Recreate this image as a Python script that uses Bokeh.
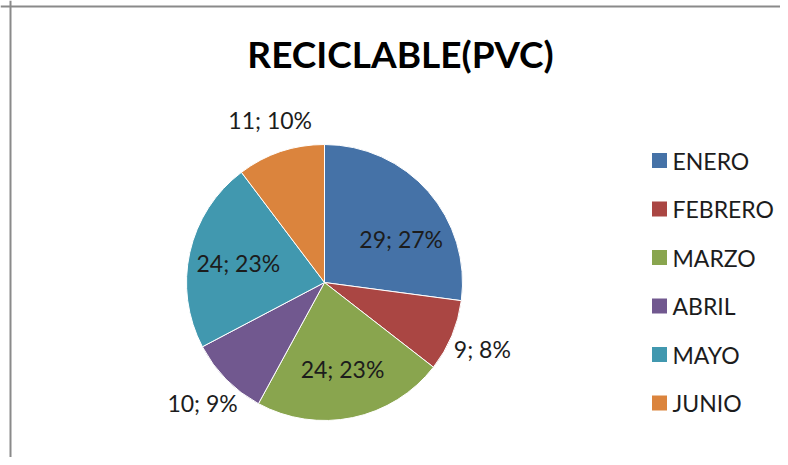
import math
from bokeh.plotting import figure
from bokeh.models import Range1d, Span, ColumnDataSource
from bokeh.core.properties import value
from bokeh.embed import file_html
from bokeh.resources import INLINE

# ---- data ----
title_text = "RECICLABLE(PVC)"
months = ["ENERO", "FEBRERO", "MARZO", "ABRIL", "MAYO", "JUNIO"]
counts = [29, 9, 24, 10, 24, 11]
percents = ["27%", "8%", "23%", "9%", "23%", "10%"]
colors = ["#4572A7", "#AA4643", "#89A54E", "#71588F", "#4198AF", "#DB843D"]

# ---- layout (screen pixels; y measured downward from top) ----
W, H = 780, 457
FONT = value("Lato")
TXT = "#1c1c1c"

def py(y):  # screen y -> data y
    return H - y

cx, cy, R = 324, py(282), 138

total = float(sum(counts))
starts, ends, lx, ly = [], [], [], []
cum = 0.0
for c in counts:
    a0 = math.pi / 2 - 2 * math.pi * cum / total
    cum += c
    a1 = math.pi / 2 - 2 * math.pi * cum / total
    starts.append(a0)
    ends.append(a1)
    mid = (a0 + a1) / 2
    share = c / total
    if share > 0.25:
        mid -= 0.2
    f = 0.64 if share > 0.15 else 1.24
    lx.append(cx + f * R * math.cos(mid))
    ly.append(cy + f * R * math.sin(mid))

labels = [f"{c}; {p}" for c, p in zip(counts, percents)]

src = ColumnDataSource(dict(start=starts, end=ends, color=colors,
                            lx=lx, ly=ly, label=labels))

p = figure(width=W, height=H, output_backend="svg", toolbar_location=None,
           x_range=Range1d(0, W), y_range=Range1d(0, H), min_border=0)
p.axis.visible = False
p.grid.visible = False
p.outline_line_color = None
p.background_fill_color = "white"
p.border_fill_color = "white"

# chart-area border (left and top)
p.add_layout(Span(location=10, dimension="height", line_color="#8a8a8a", line_width=2))
p.add_layout(Span(location=py(6), dimension="width", line_color="#8a8a8a", line_width=2))

p.wedge(x=cx, y=cy, radius=R, start_angle="start", end_angle="end",
        direction="clock", fill_color="color", line_color="white",
        line_width=1, source=src)

p.text(x="lx", y="ly", text="label", source=src, text_font=FONT,
       text_font_size="23px", text_align="center", text_baseline="middle",
       text_color=TXT)

# title
p.text(x=[400], y=[py(53)], text=[title_text], text_font=FONT,
       text_font_size="37px", text_font_style="bold", text_align="center",
       text_baseline="middle", text_color="#000000")

# legend
leg_y = [py(160 + 48.5 * i) for i in range(len(months))]
leg_src = ColumnDataSource(dict(y=leg_y, name=months, color=colors))
p.rect(x=659, y="y", width=15, height=15, width_units="screen",
       height_units="screen", fill_color="color", line_color=None, source=leg_src)
p.text(x=672, y="y", text="name", source=leg_src, text_font=FONT,
       text_font_size="23px", text_align="left", text_baseline="middle",
       text_color=TXT)

open("out.html", "w").write(file_html(p, INLINE))
